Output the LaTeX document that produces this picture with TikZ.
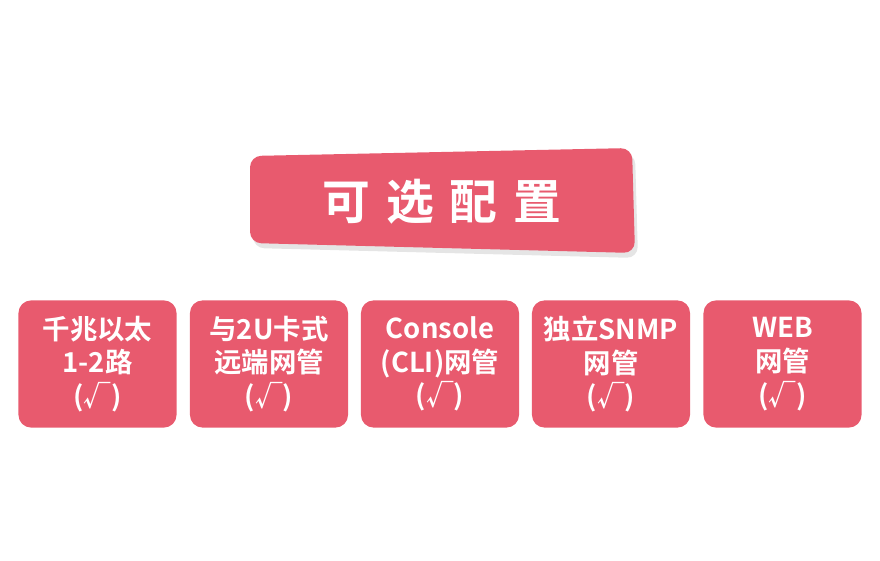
\documentclass[tikz,border=0pt]{standalone}
\usepackage{fontspec}
\setmainfont{Noto Sans CJK SC Bold}
\usetikzlibrary{shadows,positioning}
\definecolor{rosered}{HTML}{E85A6E}
\begin{document}
\begin{tikzpicture}[x=0.025cm,y=-0.025cm,
    option/.style={fill=rosered,rounded corners=9pt,minimum width=3.95cm,minimum height=3.18cm,
      text=white,align=center,font=\fontsize{19.5}{24}\selectfont,inner sep=0pt}]
    \useasboundingbox (0,0) rectangle (880,560);

    % title panel with a slight perspective
    \fill[black!10,rounded corners=8pt] (253,161) -- (635,153) -- (638,258) -- (253,248) -- cycle;
    \fill[rosered,rounded corners=8pt] (250,156) -- (632,148) -- (635,253) -- (250,243) -- cycle;
    \node[text=white,font=\fontsize{34}{38}\selectfont] (title) at (442,202) {可\,\,选\,\,配\,\,置};

    % option boxes
    \node[option] (opt1) at (97.5,364)  {千兆以太\\1-2路\\(√)};
    \node[option] (opt2) at (269,364)   {与2U卡式\\远端网管\\(√)};
    \node[option] (opt3) at (440,364)   {Console\\(CLI)网管\\(√)};
    \node[option] (opt4) at (611,364)   {独立SNMP\\网管\\(√)};
    \node[option] (opt5) at (782.5,364) {WEB\\网管\\(√)};
\end{tikzpicture}
\end{document}
